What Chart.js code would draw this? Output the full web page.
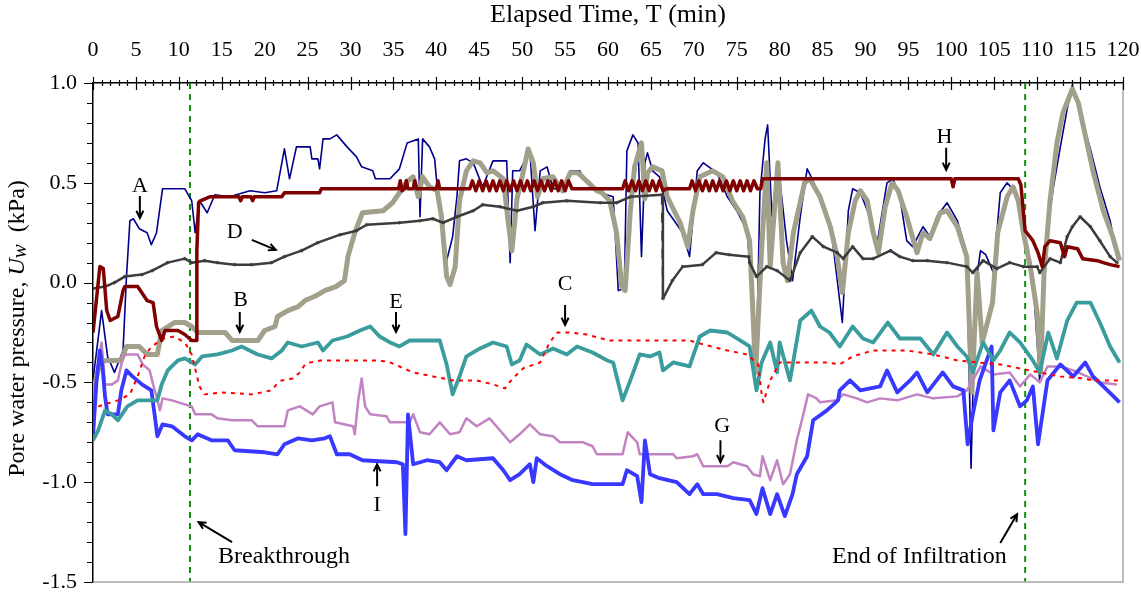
<!DOCTYPE html>
<html>
<head>
<meta charset="utf-8">
<title>Pore water pressure vs elapsed time</title>
<script src="https://cdn.jsdelivr.net/npm/chart.js@4.4.0/dist/chart.umd.min.js"></script>
<style>
  html, body { margin: 0; padding: 0; background: #fff; }
  #wrap { width: 1141px; height: 592px; }
</style>
</head>
<body>
<div id="wrap"><canvas id="pwpChart" width="1141" height="592"></canvas></div>
<script>
const SERIF = "'Liberation Serif', 'Times New Roman', serif";

// [time (min), pore water pressure (kPa)]
const seriesA = [[0,-0.49],[1.0,-0.14],[1.7,-0.37],[2.5,-0.45],[3.5,-0.34],[3.9,0.03],[4.3,0.31],[4.7,0.32],[5.4,0.27],[6.3,0.25],[6.8,0.19],[7.4,0.25],[8.1,0.47],[10.7,0.47],[11.5,0.41],[11.9,0.25],[12.4,0.41],[13.3,0.35],[14.2,0.44],[15.9,0.43],[18.3,0.46],[20.0,0.45],[21.4,0.46],[22.3,0.67],[22.9,0.52],[23.7,0.68],[25.3,0.68],[25.5,0.62],[26.2,0.62],[26.4,0.57],[26.8,0.72],[27.6,0.72],[28.4,0.74],[29.6,0.68],[30.7,0.63],[31.3,0.58],[32.6,0.56],[32.9,0.52],[34.6,0.52],[35.7,0.57],[36.6,0.70],[37.9,0.72],[38.1,0.33],[38.4,0.72],[39.2,0.68],[39.8,0.62],[40.1,0.48],[40.8,0.28],[41.2,0.11],[41.9,0.23],[42.4,0.43],[42.7,0.61],[43.5,0.62],[44.3,0.60],[45.4,0.48],[46.6,0.61],[48.2,0.61],[48.6,0.10],[48.9,0.56],[49.7,0.56],[50.9,0.66],[51.5,0.26],[52.1,0.56],[52.9,0.58],[53.6,0.47],[54.7,0.47],[55.6,0.56],[56.7,0.56],[57.5,0.50],[58.2,0.47],[59.1,0.45],[60.6,0.43],[61.2,-0.04],[61.9,-0.03],[62.2,0.66],[62.9,0.74],[63.5,0.70],[63.9,0.13],[64.3,0.60],[64.6,0.65],[65.2,0.56],[66.0,0.53],[66.9,0.36],[68.7,0.25],[69.5,0.13],[70.4,0.56],[71.1,0.60],[72.7,0.55],[73.9,0.43],[75.0,0.36],[76.2,0.26],[76.9,-0.10],[77.3,-0.38],[77.7,0.45],[78.3,0.72],[78.6,0.79],[79.1,0.33],[79.8,0.60],[80.8,0.21],[81.5,0.01],[82.4,0.33],[83.2,0.57],[83.8,0.52],[84.7,0.41],[85.9,0.30],[87.3,-0.20],[88.0,0.36],[88.5,0.47],[89.4,0.45],[90.5,0.33],[91.3,0.18],[92.5,0.50],[93.2,0.52],[94.0,0.43],[94.8,0.21],[95.5,0.18],[96.7,0.28],[97.5,0.23],[98.3,0.33],[99.5,0.40],[100.7,0.31],[101.8,0.15],[102.3,-0.93],[102.8,-0.02],[103.4,0.16],[104.0,0.14],[104.9,0.05],[105.7,0.45],[106.5,0.50],[107.7,0.44],[108.4,0.28],[109.5,0.03],[110.3,-0.50],[111.2,0.28],[111.9,0.48],[112.7,0.68],[113.5,0.87],[114.1,0.99],[115.0,0.85],[116.2,0.67],[117.3,0.48],[118.5,0.31],[119.4,0.11]];

const seriesB = [[0,-0.55],[0.8,-0.40],[1.6,-0.39],[3.3,-0.39],[3.9,-0.32],[5.4,-0.32],[6.3,-0.36],[7.5,-0.36],[8.0,-0.24],[9.5,-0.20],[10.7,-0.20],[11.5,-0.22],[12.2,-0.25],[15.4,-0.25],[16.2,-0.29],[19.2,-0.29],[20.0,-0.24],[21.2,-0.22],[21.5,-0.17],[22.7,-0.14],[23.9,-0.12],[24.7,-0.09],[25.8,-0.07],[27.0,-0.04],[28.3,-0.02],[29.3,0.01],[29.7,0.13],[30.5,0.25],[31.4,0.35],[33.8,0.36],[34.9,0.40],[35.7,0.45],[36.7,0.51],[37.3,0.53],[37.9,0.43],[38.4,0.53],[39.2,0.48],[40.1,0.46],[40.6,0.33],[41.2,0.03],[41.6,-0.01],[42.2,0.08],[42.7,0.41],[43.5,0.56],[44.3,0.61],[45.1,0.60],[45.9,0.55],[46.6,0.56],[47.8,0.52],[48.3,0.33],[48.8,0.16],[49.4,0.42],[50.1,0.55],[50.7,0.67],[51.3,0.60],[51.8,0.43],[52.4,0.52],[53.6,0.53],[54.7,0.46],[55.6,0.55],[56.5,0.55],[57.5,0.51],[58.7,0.46],[59.3,0.45],[60.2,0.41],[61.0,0.25],[61.6,-0.02],[62.0,-0.04],[62.6,0.36],[63.1,0.58],[63.9,0.70],[64.3,0.42],[64.6,0.55],[65.2,0.58],[66.3,0.56],[66.9,0.43],[68.4,0.30],[69.3,0.18],[69.9,0.36],[70.7,0.53],[72.2,0.56],[73.4,0.53],[74.5,0.41],[75.7,0.33],[76.5,0.21],[77.2,-0.45],[77.9,0.17],[78.5,0.60],[78.9,0.08],[79.8,0.60],[80.4,0.10],[80.9,0.01],[81.6,0.25],[82.9,0.50],[83.5,0.52],[84.7,0.43],[85.9,0.28],[86.7,0.13],[87.3,-0.05],[88.0,0.25],[88.8,0.41],[89.4,0.46],[90.2,0.41],[90.9,0.25],[91.5,0.15],[92.3,0.38],[93.1,0.50],[93.8,0.46],[94.8,0.33],[96.0,0.15],[96.7,0.25],[97.5,0.22],[98.7,0.35],[99.5,0.36],[100.7,0.28],[101.8,0.13],[102.4,-0.55],[103.0,0.05],[103.6,-0.30],[104.8,-0.10],[105.4,0.25],[106.5,0.43],[107.2,0.48],[107.8,0.41],[108.4,0.25],[109.2,0.08],[110.0,-0.15],[110.4,-0.45],[110.8,0.05],[111.5,0.41],[112.3,0.70],[113.0,0.85],[114.1,0.97],[114.8,0.90],[115.4,0.78],[116.5,0.56],[117.7,0.36],[118.8,0.23],[119.6,0.11]];

const seriesC = [[0.6,-0.62],[1.4,-0.61],[2.9,-0.59],[4.3,-0.56],[5.2,-0.47],[6.0,-0.37],[6.8,-0.32],[8.3,-0.28],[9.5,-0.27],[10.7,-0.30],[11.5,-0.36],[12.0,-0.45],[12.4,-0.52],[13.0,-0.56],[15.0,-0.55],[18.5,-0.56],[20.8,-0.54],[21.4,-0.51],[22.0,-0.49],[23.3,-0.48],[24.1,-0.45],[24.7,-0.41],[25.3,-0.40],[26.5,-0.39],[33.4,-0.39],[34.6,-0.40],[37.3,-0.45],[39.6,-0.47],[42.0,-0.49],[44.7,-0.49],[46.6,-0.51],[48.0,-0.53],[48.9,-0.48],[50.1,-0.43],[52.1,-0.40],[53.2,-0.30],[54.1,-0.25],[55.6,-0.25],[57.5,-0.26],[60.2,-0.29],[69.5,-0.29],[71.1,-0.31],[73.9,-0.34],[76.2,-0.36],[77.5,-0.41],[77.9,-0.56],[78.1,-0.60],[78.9,-0.49],[80.0,-0.40],[81.5,-0.40],[85.5,-0.40],[87.0,-0.41],[88.5,-0.37],[90.9,-0.34],[94.8,-0.34],[97.9,-0.36],[100.7,-0.39],[103.0,-0.40],[105.7,-0.41],[108.0,-0.43],[110.3,-0.45],[112.7,-0.47],[115.3,-0.48],[116.5,-0.49],[120,-0.49]];

const seriesD = [[0,-0.03],[1.4,-0.02],[2.5,0.0],[3.7,0.03],[5.7,0.04],[6.9,0.06],[8.7,0.10],[10.7,0.12],[11.5,0.10],[13.0,0.11],[14.5,0.10],[16.5,0.09],[18.5,0.09],[20.8,0.10],[22.3,0.13],[24.3,0.16],[26.2,0.20],[28.8,0.24],[30.7,0.26],[31.9,0.29],[35.7,0.30],[38.1,0.31],[39.6,0.32],[40.8,0.30],[42.4,0.33],[44.3,0.36],[45.4,0.39],[47.4,0.38],[49.4,0.36],[51.3,0.38],[52.4,0.40],[55.2,0.41],[59.1,0.40],[61.0,0.40],[62.6,0.43],[66.3,0.44],[66.4,-0.08],[67.5,0.01],[68.7,0.08],[71.0,0.09],[72.6,0.15],[74.1,0.14],[76.4,0.13],[76.5,0.10],[77.3,0.03],[78.5,0.08],[79.7,0.06],[81.2,0.01],[82.4,0.15],[83.8,0.23],[85.1,0.18],[86.7,0.15],[87.4,0.12],[88.5,0.18],[89.7,0.12],[90.9,0.12],[92.9,0.16],[94.0,0.13],[95.5,0.11],[97.2,0.11],[99.5,0.10],[101.8,0.08],[102.5,0.05],[103.7,0.11],[105.3,0.07],[106.8,0.10],[108.4,0.08],[110.0,0.08],[110.3,0.05],[111.5,0.12],[112.7,0.10],[113.5,0.23],[114.1,0.28],[115.0,0.33],[116.2,0.28],[117.3,0.21],[118.5,0.13],[119.3,0.10]];

const seriesE = [[0,-0.79],[0.6,-0.74],[1.4,-0.64],[2.2,-0.66],[2.9,-0.69],[4.0,-0.62],[5.2,-0.59],[7.5,-0.59],[8.0,-0.51],[8.7,-0.44],[9.9,-0.39],[10.7,-0.38],[11.9,-0.41],[12.7,-0.37],[14.5,-0.36],[16.2,-0.34],[17.3,-0.32],[19.2,-0.36],[20.8,-0.38],[22.0,-0.34],[22.7,-0.30],[24.3,-0.32],[26.2,-0.30],[26.8,-0.34],[27.9,-0.29],[29.6,-0.27],[31.1,-0.24],[32.3,-0.22],[33.4,-0.27],[34.6,-0.30],[35.7,-0.32],[36.9,-0.29],[40.4,-0.29],[41.2,-0.41],[41.9,-0.56],[42.7,-0.47],[43.5,-0.37],[45.1,-0.33],[46.6,-0.30],[48.2,-0.32],[48.8,-0.41],[49.7,-0.39],[50.5,-0.31],[52.1,-0.36],[53.6,-0.33],[55.2,-0.36],[56.4,-0.32],[58.2,-0.35],[59.9,-0.39],[60.6,-0.40],[61.7,-0.59],[62.6,-0.49],[63.7,-0.36],[64.9,-0.37],[66.0,-0.35],[66.4,-0.44],[67.6,-0.40],[69.5,-0.42],[70.7,-0.27],[71.9,-0.24],[73.9,-0.25],[75.4,-0.29],[76.5,-0.32],[77.3,-0.54],[77.9,-0.40],[78.9,-0.30],[79.7,-0.45],[80.0,-0.30],[81.2,-0.49],[82.4,-0.19],[83.7,-0.14],[84.7,-0.22],[85.8,-0.25],[87.0,-0.32],[88.5,-0.22],[89.7,-0.28],[90.9,-0.30],[92.6,-0.20],[94.0,-0.28],[96.4,-0.28],[97.9,-0.36],[99.5,-0.25],[100.7,-0.32],[101.8,-0.37],[102.5,-0.45],[103.7,-0.30],[104.9,-0.39],[105.7,-0.34],[106.8,-0.25],[108.0,-0.30],[109.5,-0.39],[110.3,-0.45],[111.3,-0.25],[112.3,-0.38],[113.5,-0.19],[114.6,-0.10],[116.2,-0.10],[117.3,-0.20],[118.5,-0.32],[119.6,-0.40]];

const seriesG = [[0,-0.59],[0.55,-0.42],[1.0,-0.30],[1.4,-0.51],[2.2,-0.51],[2.9,-0.49],[3.5,-0.37],[4.0,-0.36],[5.2,-0.36],[5.8,-0.41],[6.6,-0.44],[7.0,-0.51],[7.4,-0.57],[7.8,-0.64],[8.1,-0.58],[9.2,-0.59],[10.7,-0.61],[11.5,-0.62],[11.9,-0.66],[13.8,-0.66],[14.5,-0.68],[16.2,-0.69],[18.5,-0.69],[19.2,-0.72],[22.3,-0.72],[22.7,-0.64],[24.1,-0.62],[25.6,-0.66],[26.4,-0.62],[27.9,-0.60],[28.2,-0.70],[30.3,-0.72],[30.5,-0.76],[30.9,-0.59],[31.3,-0.48],[31.7,-0.62],[32.3,-0.66],[34.2,-0.67],[34.6,-0.70],[36.9,-0.70],[37.3,-0.66],[38.1,-0.75],[39.2,-0.76],[40.4,-0.70],[41.6,-0.76],[42.7,-0.75],[43.5,-0.68],[44.7,-0.72],[46.2,-0.68],[47.4,-0.74],[48.6,-0.80],[49.7,-0.76],[50.9,-0.71],[52.1,-0.76],[53.6,-0.77],[54.4,-0.80],[57.1,-0.80],[58.2,-0.82],[58.7,-0.86],[61.7,-0.86],[62.3,-0.75],[63.4,-0.80],[63.7,-0.86],[67.6,-0.86],[68.0,-0.88],[69.9,-0.87],[70.4,-0.86],[71.1,-0.92],[73.9,-0.92],[74.6,-0.90],[76.2,-0.92],[76.9,-0.96],[77.7,-0.97],[78.0,-0.87],[78.9,-0.99],[79.7,-0.89],[80.4,-1.01],[81.2,-0.96],[82.0,-0.79],[82.7,-0.67],[83.3,-0.56],[84.3,-0.58],[84.7,-0.60],[86.7,-0.59],[87.4,-0.56],[89.0,-0.58],[90.2,-0.60],[91.7,-0.58],[93.7,-0.59],[96.0,-0.56],[97.9,-0.58],[100.7,-0.57],[101.8,-0.54],[102.5,-0.49],[103.4,-0.42],[104.9,-0.46],[106.8,-0.45],[108.0,-0.52],[109.2,-0.46],[110.3,-0.50],[111.2,-0.42],[112.7,-0.42],[114.2,-0.44],[115.8,-0.47],[117.3,-0.50],[119.3,-0.51]];

const seriesH = [[0,-0.25],[0.8,0.08],[1.2,0.07],[1.6,-0.14],[2.0,-0.19],[2.9,-0.17],[3.5,-0.04],[3.7,-0.02],[5.2,-0.02],[6.3,-0.09],[7.0,-0.10],[7.4,-0.22],[8.0,-0.29],[8.4,-0.24],[9.9,-0.24],[10.7,-0.26],[11.5,-0.29],[12.0,-0.29],[12.1,0.16],[12.3,0.40],[12.5,0.41],[13.6,0.43],[17.0,0.43],[17.2,0.41],[17.4,0.43],[18.4,0.43],[18.6,0.41],[18.8,0.43],[22.0,0.43],[22.3,0.45],[26.4,0.45],[26.6,0.47],[35.6,0.47],[35.8,0.51],[36.0,0.46],[36.3,0.47],[36.5,0.51],[36.7,0.47],[37.3,0.47],[37.5,0.51],[37.7,0.47],[40.0,0.47],[40.2,0.51],[40.4,0.47],[43.9,0.47],[44.2,0.51],[44.6,0.46],[45.0,0.51],[45.4,0.46],[45.8,0.51],[46.2,0.46],[46.6,0.51],[47.0,0.46],[47.4,0.51],[47.8,0.46],[48.2,0.51],[48.6,0.46],[49.0,0.51],[49.4,0.46],[49.8,0.51],[50.2,0.46],[50.6,0.51],[51.0,0.46],[51.4,0.51],[51.8,0.46],[52.2,0.51],[52.6,0.46],[53.0,0.51],[53.4,0.46],[53.8,0.51],[54.2,0.46],[54.6,0.51],[55.0,0.46],[55.4,0.51],[55.8,0.47],[61.7,0.47],[62.0,0.51],[62.4,0.46],[62.8,0.51],[63.2,0.46],[63.6,0.51],[64.0,0.46],[64.4,0.51],[64.8,0.46],[65.2,0.51],[65.6,0.46],[66.0,0.51],[66.4,0.46],[66.8,0.47],[69.5,0.47],[69.8,0.51],[70.2,0.46],[70.6,0.51],[71.0,0.46],[71.4,0.51],[71.8,0.46],[72.2,0.51],[72.6,0.46],[73.0,0.51],[73.4,0.46],[73.8,0.51],[74.2,0.46],[74.6,0.51],[75.0,0.46],[75.4,0.51],[75.8,0.46],[76.2,0.51],[76.6,0.46],[77.0,0.51],[77.4,0.47],[77.8,0.47],[78.0,0.52],[100.0,0.52],[100.2,0.48],[100.4,0.52],[107.8,0.52],[108.1,0.49],[108.6,0.26],[109.5,0.21],[110.1,0.15],[110.6,0.08],[110.9,0.18],[111.5,0.21],[112.7,0.20],[113.2,0.13],[113.5,0.18],[114.7,0.17],[115.3,0.12],[117.0,0.11],[117.7,0.10],[118.5,0.09],[119.6,0.08]];

const seriesI = [[0,-0.77],[0.4,-0.50],[0.8,-0.34],[1.1,-0.42],[1.4,-0.57],[1.7,-0.66],[2.9,-0.66],[3.3,-0.54],[3.9,-0.44],[4.6,-0.47],[5.7,-0.51],[6.8,-0.54],[7.2,-0.67],[7.5,-0.77],[8.1,-0.71],[9.2,-0.72],[10.7,-0.77],[11.5,-0.79],[12.2,-0.76],[13.8,-0.79],[15.7,-0.79],[16.5,-0.84],[20.0,-0.85],[21.5,-0.86],[22.3,-0.81],[23.9,-0.78],[25.5,-0.79],[27.0,-0.78],[27.6,-0.77],[28.4,-0.86],[29.9,-0.86],[31.4,-0.89],[35.4,-0.90],[36.1,-0.91],[36.4,-1.26],[36.7,-0.66],[37.3,-0.91],[38.9,-0.89],[40.4,-0.90],[41.2,-0.94],[42.4,-0.87],[43.5,-0.89],[46.6,-0.88],[47.8,-0.94],[48.6,-0.99],[49.7,-0.96],[50.9,-0.91],[51.3,-1.00],[51.7,-0.88],[52.9,-0.92],[54.4,-0.96],[55.9,-0.99],[58.2,-1.01],[61.7,-1.01],[62.2,-0.94],[63.4,-0.97],[63.9,-1.10],[64.3,-0.79],[64.9,-0.96],[66.0,-0.98],[68.0,-1.00],[69.5,-1.06],[70.4,-1.01],[71.1,-1.06],[72.7,-1.06],[74.6,-1.08],[76.5,-1.09],[77.3,-1.16],[78.0,-1.03],[78.9,-1.16],[79.7,-1.06],[80.6,-1.17],[81.5,-1.06],[82.0,-0.96],[83.2,-0.87],[83.9,-0.69],[85.5,-0.64],[86.8,-0.59],[87.0,-0.54],[88.2,-0.49],[89.4,-0.54],[91.7,-0.52],[92.5,-0.44],[93.7,-0.55],[95.2,-0.49],[96.0,-0.45],[97.2,-0.55],[99.0,-0.45],[100.2,-0.52],[101.4,-0.54],[101.9,-0.81],[102.5,-0.66],[103.3,-0.49],[104.7,-0.32],[104.9,-0.74],[105.7,-0.55],[106.8,-0.49],[108.0,-0.62],[108.8,-0.59],[109.5,-0.52],[110.1,-0.81],[111.2,-0.49],[112.7,-0.41],[114.2,-0.47],[115.6,-0.40],[116.5,-0.47],[117.7,-0.52],[118.9,-0.57],[119.6,-0.60]];

// breakthrough and end of infiltration times
const markerTimes = [11.3, 108.6];

// text notes, placed in data units (min, kPa)
const notes = [
  { text: 'A', t: 5.46, u: 0.485, arrow: [5.46, 0.434, 5.46, 0.324] },
  { text: 'B', t: 17.2, u: -0.09, arrow: [17.1, -0.147, 17.1, -0.247] },
  { text: 'D', t: 16.5, u: 0.25, arrow: [18.5, 0.214, 21.3, 0.164] },
  { text: 'E', t: 35.3, u: -0.10, arrow: [35.3, -0.147, 35.3, -0.247] },
  { text: 'C', t: 55.0, u: -0.01, arrow: [55.0, -0.112, 55.0, -0.212] },
  { text: 'H', t: 99.2, u: 0.73, arrow: [99.4, 0.675, 99.4, 0.565] },
  { text: 'G', t: 73.3, u: -0.72, arrow: [73.1, -0.79, 73.1, -0.90] },
  { text: 'I', t: 33.1, u: -1.115, arrow: [33.1, -1.02, 33.1, -0.91] }
];
const sideNotes = [
  { text: 'Breakthrough', t: 14.56, u: -1.375, arrow: [16.2, -1.30, 12.3, -1.20] },
  { text: 'End of Infiltration', t: 86.1, u: -1.375, arrow: [105.7, -1.305, 107.66, -1.16] }
];

const toXY = s => s.map(p => ({ x: p[0], y: p[1] }));

function line(label, data, color, width, extra) {
  return Object.assign({
    label: label,
    data: toXY(data),
    borderColor: color,
    backgroundColor: color,
    borderWidth: width,
    borderJoinStyle: 'round',
    pointRadius: 0,
    tension: 0,
    fill: false
  }, extra || {});
}

function drawArrow(ctx, x1, y1, x2, y2) {
  const a = Math.atan2(y2 - y1, x2 - x1), h = 8;
  ctx.beginPath();
  ctx.moveTo(x1, y1);
  ctx.lineTo(x2, y2);
  ctx.moveTo(x2 - h * Math.cos(a - 0.45), y2 - h * Math.sin(a - 0.45));
  ctx.lineTo(x2, y2);
  ctx.lineTo(x2 - h * Math.cos(a + 0.45), y2 - h * Math.sin(a + 0.45));
  ctx.stroke();
}

const framePlugin = {
  id: 'frame',
  afterDraw(chart) {
    const { ctx, chartArea: a, scales: { x, y } } = chart;
    ctx.save();

    // right and bottom edges of the plot
    ctx.strokeStyle = '#a8a8a8';
    ctx.lineWidth = 1.5;
    ctx.beginPath();
    ctx.moveTo(a.right, a.top);
    ctx.lineTo(a.right, a.bottom);
    ctx.lineTo(a.left, a.bottom);
    ctx.stroke();

    // major and minor ticks
    ctx.strokeStyle = '#000';
    ctx.lineWidth = 1.2;
    ctx.beginPath();
    for (let t = 0; t <= 120; t++) {
      const px = Math.round(x.getPixelForValue(t)) + 0.5;
      const major = t % 5 === 0;
      ctx.moveTo(px, a.top - (major ? 6 : 3));
      ctx.lineTo(px, a.top + (major ? 7 : 3));
    }
    for (let k = -15; k <= 10; k++) {
      const py = Math.round(y.getPixelForValue(k / 10)) + 0.5;
      const major = k % 5 === 0;
      ctx.moveTo(a.left - (major ? 9 : 6), py);
      ctx.lineTo(a.left, py);
    }
    ctx.stroke();

    // axis titles
    ctx.fillStyle = '#000';
    ctx.textBaseline = 'middle';
    ctx.textAlign = 'center';
    ctx.font = '26px ' + SERIF;
    ctx.fillText('Elapsed Time, T (min)', (a.left + a.right) / 2, 15);

    const parts = [
      ['Pore water pressure, ', '24px ' + SERIF, 0],
      ['U', 'italic 24px ' + SERIF, 0],
      ['w', 'italic 21px ' + SERIF, 2],
      ['  (kPa)', '24px ' + SERIF, 0]
    ];
    let total = 0;
    parts.forEach(p => { ctx.font = p[1]; total += ctx.measureText(p[0]).width; });
    ctx.save();
    ctx.translate(18, (a.top + a.bottom) / 2 - 4);
    ctx.rotate(-Math.PI / 2);
    ctx.textAlign = 'left';
    let cx = -total / 2;
    parts.forEach(p => {
      ctx.font = p[1];
      ctx.fillText(p[0], cx, p[2]);
      cx += ctx.measureText(p[0]).width;
    });
    ctx.restore();

    // curve letters and arrows
    ctx.lineWidth = 2;
    ctx.strokeStyle = '#000';
    ctx.font = '22px ' + SERIF;
    ctx.textAlign = 'center';
    notes.forEach(n => {
      ctx.fillText(n.text, x.getPixelForValue(n.t), y.getPixelForValue(n.u));
      const r = n.arrow;
      drawArrow(ctx, x.getPixelForValue(r[0]), y.getPixelForValue(r[1]),
                x.getPixelForValue(r[2]), y.getPixelForValue(r[3]));
    });
    ctx.font = '24px ' + SERIF;
    ctx.textAlign = 'left';
    sideNotes.forEach(n => {
      ctx.fillText(n.text, x.getPixelForValue(n.t), y.getPixelForValue(n.u));
      const r = n.arrow;
      drawArrow(ctx, x.getPixelForValue(r[0]), y.getPixelForValue(r[1]),
                x.getPixelForValue(r[2]), y.getPixelForValue(r[3]));
    });

    ctx.restore();
  }
};

const datasets = [
  line('H', seriesH, '#800000', 3.5),
  line('D', seriesD, '#3c3c3c', 2.5, {
    pointRadius: 1.8, pointStyle: 'star', pointBorderColor: '#3c3c3c', pointBorderWidth: 1,
    segment: { borderDash: c => (c.p0.parsed.y - c.p1.parsed.y > 0.3 ? [10, 8] : undefined) }
  }),
  line('C', seriesC, '#ff0000', 2, { borderDash: [4, 5] }),
  line('E', seriesE, '#3a9c9c', 3.8),
  line('I', seriesI, '#3838ff', 3.8),
  line('G', seriesG, '#c183c1', 2.5),
  line('B', seriesB, '#a2a08b', 5),
  line('A', seriesA, '#00008b', 1.6)
];
markerTimes.forEach(t => {
  datasets.push(line('marker', [[t, 1.0], [t, -1.5]], '#109010', 2, { borderDash: [6, 5] }));
});

new Chart(document.getElementById('pwpChart'), {
  type: 'line',
  data: { datasets: datasets },
  options: {
    responsive: false,
    animation: false,
    devicePixelRatio: 1,
    layout: { padding: { left: 0, top: 0, right: 18, bottom: 10 } },
    plugins: { legend: { display: false }, tooltip: { enabled: false } },
    scales: {
      x: {
        type: 'linear',
        position: 'top',
        min: 0,
        max: 120,
        afterFit: s => { s.height = 83; s.paddingLeft = 0; s.paddingRight = 0; },
        grid: { display: false, drawTicks: false },
        border: { display: true, color: '#000', width: 1.5 },
        ticks: {
          stepSize: 5,
          autoSkip: false,
          maxRotation: 0,
          padding: 20,
          color: '#000',
          font: { family: SERIF, size: 22 },
          callback: v => String(Math.round(v))
        }
      },
      y: {
        type: 'linear',
        min: -1.5,
        max: 1.0,
        afterFit: s => { s.width = 93; s.paddingTop = 0; s.paddingBottom = 0; },
        grid: { display: false, drawTicks: false },
        border: { display: true, color: '#000', width: 1.5 },
        ticks: {
          stepSize: 0.5,
          padding: 16,
          color: '#000',
          font: { family: SERIF, size: 22 },
          callback: v => v.toFixed(1)
        }
      }
    }
  },
  plugins: [framePlugin]
});
</script>
</body>
</html>
